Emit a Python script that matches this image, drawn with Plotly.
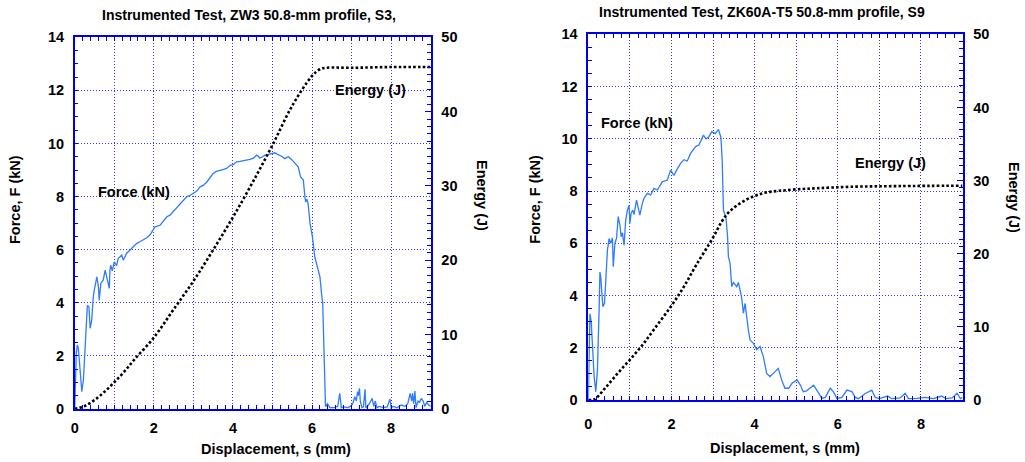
import plotly.graph_objects as go

# ---------------- Left chart: ZW3 S3 ----------------
left_force_x = [0.0, 0.02, 0.04, 0.065, 0.09, 0.11, 0.15, 0.18, 0.22, 0.26, 0.30, 0.32, 0.36, 0.39,
                0.43, 0.47, 0.51, 0.56, 0.60, 0.62, 0.66, 0.72, 0.77, 0.81, 0.85, 0.875, 0.89, 0.91,
                0.95, 1.0, 1.06, 1.10, 1.19, 1.23, 1.31, 1.40, 1.48, 1.57, 1.65, 1.73, 1.82, 1.90,
                2.03, 2.16, 2.25, 2.33, 2.41, 2.49, 2.58, 2.66, 2.75, 2.83, 2.92, 3.0, 3.08, 3.17,
                3.25, 3.34, 3.42, 3.50, 3.58, 3.67, 3.75, 3.84, 3.93, 4.01, 4.09, 4.18, 4.26, 4.35,
                4.43, 4.52, 4.60, 4.64, 4.68, 4.75, 4.81, 4.88, 4.94, 5.0, 5.06, 5.12, 5.19, 5.25,
                5.31, 5.36, 5.40, 5.48, 5.57, 5.65, 5.71, 5.75, 5.78, 5.82, 5.84, 5.87, 5.90, 5.95,
                6.01, 6.07, 6.12, 6.16, 6.20, 6.24, 6.27, 6.30, 6.33, 6.34, 6.39, 6.45, 6.55, 6.65,
                6.70, 6.74, 6.80, 6.90, 6.97, 7.03, 7.08, 7.12, 7.15, 7.17, 7.20, 7.22, 7.26, 7.30,
                7.34, 7.36, 7.40, 7.45, 7.52, 7.56, 7.60, 7.64, 7.70, 7.80, 7.90, 7.97, 8.00, 8.05,
                8.15, 8.25, 8.35, 8.42, 8.48, 8.52, 8.54, 8.57, 8.60, 8.63, 8.68, 8.72, 8.76, 8.81,
                8.85, 8.90, 8.95, 9.0]
left_force_y = [0.0, 1.9, 2.1, 2.41, 2.3, 1.97, 1.1, 0.65, 1.09, 2.1, 3.1, 3.9, 3.85, 3.04,
                3.35, 4.23, 4.6, 4.98, 4.6, 4.1, 4.73, 4.85, 5.23, 4.98, 4.7, 4.54, 5.2, 5.42,
                5.2, 5.54, 5.4, 5.67, 5.8, 5.6, 5.86, 5.98, 6.1, 6.24, 6.3, 6.36, 6.45, 6.55,
                6.86, 6.92, 7.1, 7.24, 7.3, 7.43, 7.6, 7.74, 7.85, 7.99, 8.05, 8.12, 8.2, 8.37,
                8.42, 8.55, 8.7, 8.87, 8.95, 9.0, 9.02, 9.06, 9.18, 9.2, 9.31, 9.33, 9.35, 9.38,
                9.4, 9.45, 9.56, 9.52, 9.45, 9.5, 9.56, 9.58, 9.6, 9.62, 9.65, 9.6, 9.56, 9.5,
                9.43, 9.47, 9.5, 9.4, 9.25, 9.12, 8.74, 8.68, 8.62, 7.99, 7.8, 7.9, 7.74, 6.99,
                6.48, 5.73, 5.4, 5.23, 4.98, 4.35, 3.98, 2.35, 0.72, 0.09, 0.2, 0.05, 0.05, 0.1,
                0.59, 0.05, 0.08, 0.05, 0.1, 0.2, 0.46, 0.3, 0.65, 0.5, 0.78, 0.3, 0.05, 0.08,
                0.74, 0.05, 0.1, 0.2, 0.4, 0.1, 0.3, 0.05, 0.1, 0.05, 0.08, 0.38, 0.05, 0.1,
                0.05, 0.15, 0.1, 0.2, 0.59, 0.3, 0.59, 0.2, 0.68, 0.05, 0.3, 0.25, 0.4, 0.3,
                0.1, 0.25, 0.15, 0.1]

left_energy_x = [0, 0.25, 0.5, 0.75, 1.0, 1.25, 1.5, 2.0, 2.5, 3.0, 3.5, 4.0, 4.5, 5.0, 5.5,
                 6.0, 6.2, 6.35, 7.0, 8.0, 9.0]
left_energy_y = [0, 0.4, 1.2, 2.3, 3.6, 5.0, 6.6, 9.6, 13.4, 17.2, 21.4, 25.8, 30.5, 35.5, 40.8,
                 44.8, 45.7, 45.9, 45.9, 46.0, 46.0]

# ---------------- Right chart: ZK60A-T5 S9 ----------------
right_force_x = [0.0, 0.02, 0.04, 0.07, 0.10, 0.14, 0.18, 0.22, 0.26, 0.28, 0.30, 0.35, 0.39,
                 0.46, 0.50, 0.54, 0.58, 0.60, 0.64, 0.68, 0.72, 0.76, 0.79, 0.82, 0.86, 0.90,
                 0.94, 0.98, 1.0, 1.03, 1.07, 1.10, 1.16, 1.20, 1.24, 1.30, 1.34, 1.42, 1.50,
                 1.58, 1.66, 1.78, 1.90, 1.98, 2.06, 2.14, 2.22, 2.30, 2.38, 2.46, 2.58, 2.66,
                 2.70, 2.77, 2.83, 2.90, 2.97, 3.05, 3.13, 3.19, 3.22, 3.25, 3.31, 3.35, 3.37,
                 3.41, 3.45, 3.49, 3.57, 3.61, 3.65, 3.69, 3.73, 3.77, 3.85, 3.89, 3.97, 4.05,
                 4.13, 4.21, 4.29, 4.37, 4.45, 4.57, 4.65, 4.73, 4.82, 4.90, 5.02, 5.10, 5.17,
                 5.25, 5.42, 5.54, 5.62, 5.70, 5.82, 5.90, 5.98, 6.10, 6.22, 6.34, 6.42, 6.50,
                 6.66, 6.82, 6.90, 7.0, 7.20, 7.30, 7.50, 7.62, 7.70, 7.90, 8.10, 8.30, 8.50,
                 8.60, 8.75, 8.87, 8.95, 9.0]
right_force_y = [0.0, 2.0, 3.3, 3.0, 1.9, 0.9, 0.32, 1.15, 3.45, 4.9, 4.7, 3.57, 3.7,
                 5.74, 6.18, 6.0, 6.2, 5.1, 6.0, 6.2, 7.02, 6.7, 6.25, 6.4, 5.93, 6.89,
                 7.27, 7.46, 6.76, 7.15, 7.27, 7.1, 7.65, 7.4, 7.08, 7.53, 7.72, 7.91, 7.85,
                 8.1, 8.04, 8.35, 8.42, 8.8, 8.6, 8.85, 9.06, 9.2, 9.15, 9.44, 9.7, 9.76,
                 9.9, 10.14, 10.0, 10.08, 10.27, 10.2, 10.36, 10.05, 9.18, 7.27, 7.0, 6.25, 5.48,
                 5.23, 4.34, 4.5, 4.34, 4.5, 4.21, 3.9, 3.32, 3.7, 2.68, 2.3, 2.17, 1.93,
                 2.05, 1.66, 1.02, 0.9, 1.02, 1.21, 0.77, 0.45, 0.45, 0.64, 0.77, 0.57, 0.32,
                 0.35, 0.57, 0.25, 0.06, 0.1, 0.45, 0.3, 0.06, 0.1, 0.38, 0.32, 0.1, 0.05,
                 0.25, 0.38, 0.1, 0.05, 0.15, 0.05, 0.08, 0.26, 0.05, 0.06, 0.1, 0.05, 0.15,
                 0.05, 0.08, 0.26, 0.05, 0.1]

right_energy_x = [0, 0.15, 0.4, 0.7, 1.0, 1.3, 1.6, 2.0, 2.3, 2.6, 3.0, 3.2, 3.35, 3.55, 3.8,
                  4.05, 4.3, 4.6, 5.0, 5.5, 6.3, 7.5, 9.0]
right_energy_y = [0, 0.1, 1.6, 3.6, 5.5, 7.5, 9.8, 12.9, 15.5, 18.5, 22.2, 24.3, 25.5, 26.5, 27.4,
                  28.0, 28.4, 28.6, 28.8, 28.95, 29.15, 29.25, 29.3]

titles = ["Instrumented Test, ZW3 50.8-mm profile, S3,",
          "Instrumented Test, ZK60A-T5 50.8-mm profile, S9"]
x_title = "Displacement, s (mm)"
yl_title = "Force, F (kN)"
yr_title = "Energy (J)"
x_tickvals = [0, 1, 2, 3, 4, 5, 6, 7, 8, 9]
x_ticktext = ["0", "", "2", "", "4", "", "6", "", "8", ""]

FONT = "Liberation Sans, Arial, sans-serif"
AXIS_BLUE = "#0000e6"
GRID_BLUE = "rgba(30,30,255,0.9)"
FORCE_BLUE = "#2f7bff"
TXT = 14.5

fig = go.Figure()

fig.add_trace(go.Scatter(x=left_force_x, y=left_force_y, mode="lines",
                         line=dict(color=FORCE_BLUE, width=1.3), xaxis="x", yaxis="y"))
fig.add_trace(go.Scatter(x=left_energy_x, y=left_energy_y, mode="lines",
                         line=dict(color="black", width=2.6, dash="2.6px,2.2px", shape="spline"),
                         xaxis="x", yaxis="y2"))
fig.add_trace(go.Scatter(x=right_force_x, y=right_force_y, mode="lines",
                         line=dict(color=FORCE_BLUE, width=1.3), xaxis="x2", yaxis="y3"))
fig.add_trace(go.Scatter(x=right_energy_x, y=right_energy_y, mode="lines",
                         line=dict(color="black", width=2.6, dash="2.6px,2.2px", shape="spline"),
                         xaxis="x2", yaxis="y4"))

tickfont = dict(family=FONT, size=TXT, color="black", weight="bold")

def xaxis(domain, anchor, standoff):
    return dict(domain=domain, anchor=anchor, range=[0, 9], tickvals=x_tickvals,
                ticktext=x_ticktext, ticks="inside", ticklen=4, tickcolor=AXIS_BLUE,
                tickwidth=1, showline=True, linecolor=AXIS_BLUE, linewidth=1.5,
                mirror="ticks", showgrid=True, gridcolor=GRID_BLUE, gridwidth=1,
                griddash="1px,2px", zeroline=False, tickfont=tickfont,
                ticklabelstandoff=standoff, automargin=False,
                minor=dict(dtick=0.2, tick0=0, ticks="inside", ticklen=4,
                           tickcolor=AXIS_BLUE, showgrid=False))

def yforce(domain, anchor):
    return dict(domain=domain, anchor=anchor, range=[0, 14], tickvals=[0, 2, 4, 6, 8, 10, 12, 14],
                ticks="inside", ticklen=4, tickcolor=AXIS_BLUE, tickwidth=1,
                showline=True, linecolor=AXIS_BLUE, linewidth=1.5, mirror=False,
                showgrid=True, gridcolor=GRID_BLUE, gridwidth=1, griddash="1px,2px",
                zeroline=False, tickfont=tickfont, ticklabelstandoff=6, automargin=False,
                minor=dict(dtick=0.5, tick0=0, ticks="inside", ticklen=4,
                           tickcolor=AXIS_BLUE, showgrid=False))

def yenergy(overlay, anchor):
    return dict(overlaying=overlay, anchor=anchor, side="right", range=[0, 50], dtick=10,
                ticks="inside", ticklen=6, tickcolor=AXIS_BLUE, tickwidth=1,
                showline=True, linecolor=AXIS_BLUE, linewidth=1.5, showgrid=False,
                zeroline=False, tickfont=tickfont, ticklabelstandoff=6, automargin=False,
                minor=dict(dtick=1, tick0=0, ticks="inside", ticklen=4,
                           tickcolor=AXIS_BLUE, showgrid=False))

W, H = 1025, 462
L_dom_x = [74.7 / W, 430.7 / W]
L_dom_y = [1 - 409 / H, 1 - 37.3 / H]
R_dom_x = [588.3 / W, 962.5 / W]
R_dom_y = [1 - 400 / H, 1 - 34.3 / H]

fig.update_layout(
    width=W, height=H, autosize=False,
    margin=dict(l=0, r=0, t=0, b=0, autoexpand=False),
    paper_bgcolor="white", plot_bgcolor="white",
    showlegend=False,
    xaxis=xaxis(L_dom_x, "y", 5),
    yaxis=yforce(L_dom_y, "x"),
    yaxis2=yenergy("y", "x"),
    xaxis2=xaxis(R_dom_x, "y3", 10),
    yaxis3=yforce(R_dom_y, "x2"),
    yaxis4=yenergy("y3", "x2"),
)

def ann(text, x, y, size=TXT, angle=0, xanchor="center", xref="paper", yref="paper"):
    return dict(text="<b>%s</b>" % text, x=x, y=y, xref=xref, yref=yref,
                showarrow=False, textangle=angle, xanchor=xanchor, yanchor="middle",
                font=dict(family=FONT, size=size, color="black"))

def px_x(p):
    return p / W

def px_y(p):
    return 1 - p / H

annotations = [
    ann(titles[0], px_x(249), px_y(15), size=14),
    ann(titles[1], px_x(762), px_y(12), size=14),
    ann(x_title, px_x(276), px_y(449)),
    ann(x_title, px_x(784.5), px_y(448)),
    ann(yl_title, px_x(15), px_y(200), angle=-90),
    ann(yl_title, px_x(534.7), px_y(199), angle=-90),
    ann(yr_title, px_x(482), px_y(195), angle=90),
    ann(yr_title, px_x(1014), px_y(197), angle=90),
    ann("Force (kN)", 0.53, 8.18, xanchor="left", xref="x", yref="y"),
    ann("Energy (J)", 6.54, 12.03, xanchor="left", xref="x", yref="y"),
    ann("Force (kN)", 0.265, 10.59, xanchor="left", xref="x2", yref="y3"),
    ann("Energy (J)", 6.36, 9.06, xanchor="left", xref="x2", yref="y3"),
]
fig.update_layout(annotations=annotations)

fig.write_html("out.html", config={"displayModeBar": False},
               post_script="document.body.style.margin='0px';document.body.style.padding='0px';")
